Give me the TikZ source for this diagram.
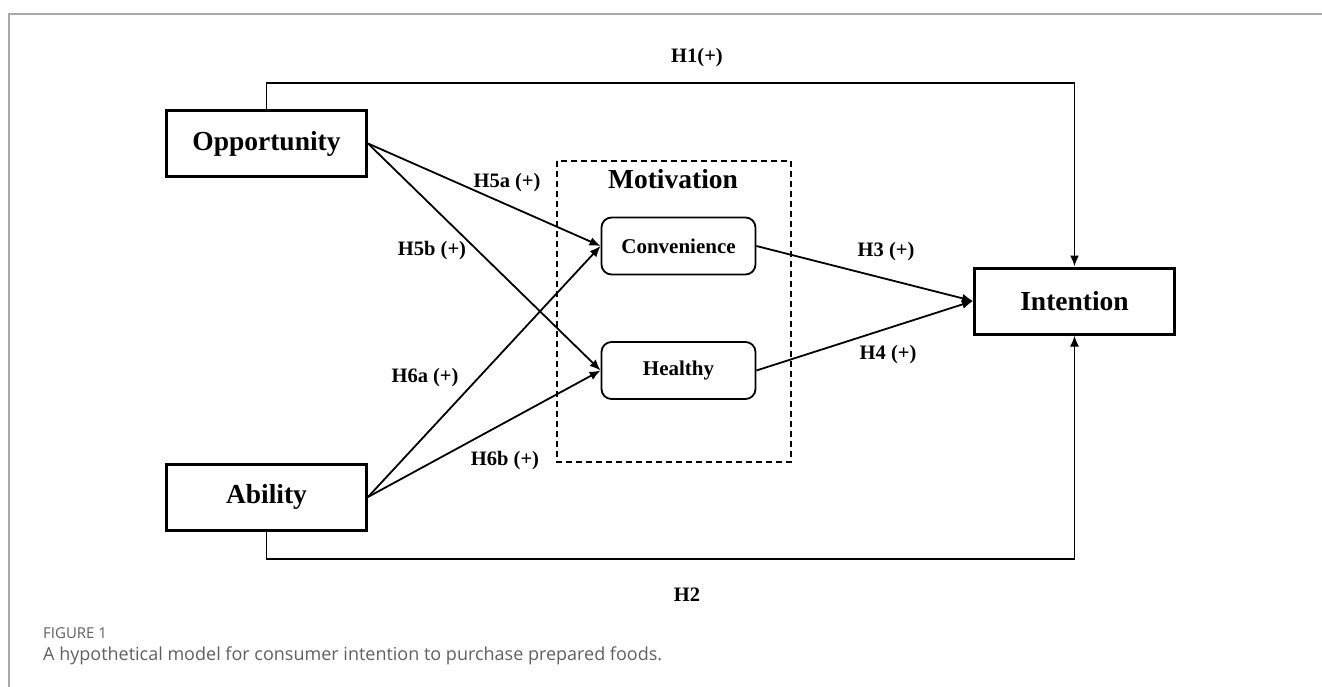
\documentclass[tikz,border=0pt]{standalone}
\usepackage{fontspec}
\setmainfont{Liberation Serif}
\newfontfamily\capfont{Open Sans}
\usetikzlibrary{arrows.meta}
\definecolor{framegray}{HTML}{A8A8A8}
\definecolor{capgray}{HTML}{606060}
\tikzset{
  mainbox/.style={draw, line width=3pt, minimum width=200pt, minimum height=66pt, inner sep=0pt, font=\fontsize{27.5}{30}\selectfont\bfseries},
  motbox/.style={draw, line width=1.8pt, rounded corners=10pt, minimum width=154pt, minimum height=57pt, inner sep=0pt, font=\fontsize{21}{24}\selectfont\bfseries},
  conn/.style={line width=1.8pt, -{Latex[length=11pt,width=9pt]}},
  hlabel/.style={font=\fontsize{20.5}{24}\selectfont\bfseries, inner sep=0pt},
  framed/.style={draw=framegray, line width=1.3pt},
  dashbox/.style={draw, line width=1.5pt, dash pattern=on 6pt off 4pt}
}
\begin{document}
\begin{tikzpicture}[x=1pt,y=-1pt]
\useasboundingbox (0,0) rectangle (1322,687);
% outer frame
\draw[framed] (9,687) -- (9,14) -- (1322,14);
% dashed motivation region
\draw[dashbox] (557,161) rectangle (791,462);
\node[font=\fontsize{27.5}{30}\selectfont\bfseries, inner sep=0pt] (mot) at (673,179) {Motivation};
% main boxes
\node[mainbox] (opp) at (266.5,143.5) {Opportunity};
\node[mainbox] (abl) at (266.5,497) {Ability};
\node[mainbox] (int) at (1074.5,301) {Intention};
\node[motbox] (con) at (678.5,246) {Convenience};
\node[motbox] (hea) at (678.5,370.5) {Healthy};
% corner coordinates for H1 and H2
\coordinate (h1a) at (266.5,83);
\coordinate (h1b) at (1074.5,83);
\coordinate (h2a) at (266.5,559);
\coordinate (h2b) at (1074.5,559);
\draw[conn] (opp.north) -- (h1a) -- (h1b) -- (int.north);
\draw[conn] (abl.south) -- (h2a) -- (h2b) -- (int.south);
% paths
\draw[conn] (opp.east) -- (con.west);
\draw[conn] (opp.east) -- (hea.west);
\draw[conn] (abl.east) -- (con.west);
\draw[conn] (abl.east) -- (hea.west);
\draw[conn] (con.east) -- (int.west);
\draw[conn] (hea.east) -- (int.west);
% labels
\node[hlabel] (lh1) at (697,58) {H1(+)};
\node[hlabel] (lh5a) at (507,183) {H5a (+)};
\node[hlabel] (lh5b) at (432,251) {H5b (+)};
\node[hlabel] (lh6a) at (425,378) {H6a (+)};
\node[hlabel] (lh6b) at (505,461) {H6b (+)};
\node[hlabel] (lh3) at (886,252) {H3 (+)};
\node[hlabel] (lh4) at (888,355) {H4 (+)};
\node[hlabel] (lh2) at (687,595) {H2};
% caption
\node[anchor=west, inner sep=0pt, text=capgray, font=\capfont\fontsize{15}{17}\selectfont] (fig) at (43,633) {FIGURE 1};
\node[anchor=west, inner sep=0pt, text=capgray, font=\capfont\fontsize{18}{20}\selectfont] (cap) at (43,656) {A hypothetical model for consumer intention to purchase prepared foods.};
\end{tikzpicture}
\end{document}
